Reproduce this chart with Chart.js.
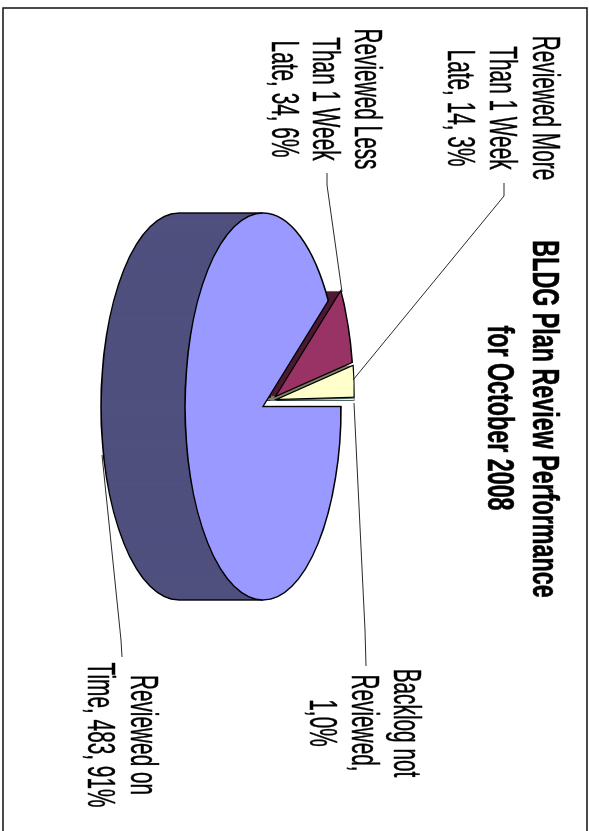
<!DOCTYPE html>
<html>
<head>
<meta charset="utf-8">
<title>BLDG Plan Review Performance</title>
<script src="https://cdn.jsdelivr.net/npm/chart.js@4/dist/chart.umd.min.js"></script>
<style>
    html, body { margin: 0; padding: 0; background: #fff; overflow: hidden; }
    /* the whole sheet was printed sideways, so the chart is turned a quarter */
    #sheet { position: absolute; left: 0; top: 0; width: 831px; height: 589px;
             transform-origin: 0 0; transform: translate(589px, 0) rotate(90deg); }
</style>
</head>
<body>
<div id="sheet"><canvas id="pie" width="831" height="589"></canvas></div>
<script>
const categories = ['Reviewed on Time', 'Reviewed Less Than 1 Week Late', 'Reviewed More Than 1 Week Late', 'Backlog not Reviewed'];
const counts = [483, 34, 14, 1];
const percents = [91, 6, 3, 0];
const topColors = ['#9999FF', '#993366', '#FFFFCC', '#CCFFFF'];
const wallColors = ['#50507F', '#4D1A33', '#808066', '#668080'];
const titleLines = ['BLDG Plan Review Performance', 'for October 2008'];
const labelLines = [
    ['Reviewed on', 'Time, ' + counts[0] + ', ' + percents[0] + '%'],
    ['Reviewed Less', 'Than 1 Week', 'Late, ' + counts[1] + ', ' + percents[1] + '%'],
    ['Reviewed More', 'Than 1 Week', 'Late, ' + counts[2] + ', ' + percents[2] + '%'],
    ['Backlog not', 'Reviewed,', counts[3] + ',' + percents[3] + '%']
];

// layout, in page pixels of the sideways sheet (u along the long side)
const SQUASH = 0.403;
const DEPTH = 84;
const explode = [null, { u: -10, v: -31 }, { u: -7, v: -33 }, { u: -6, v: -33 }];
const outlineWidth = [1.4, 1.3, 1.2, 0.5];
const labelPos = [
    { u: 735, v: 458, gap: 43 },
    { u: 99, v: 234, gap: 41.5 },
    { u: 108, v: 56, gap: 42.5 },
    { u: 723, v: 195, gap: 42 }
];
const leaders = [
    [[657, 467], [640, 468], [455, 487]],
    [[173, 262], [185, 262], [292, 247]],
    [[183, 85], [196, 85], [380, 236]],
    [[666, 223], [630, 224], [403, 235]]
];

const sideways = {
    id: 'sideways',
    beforeDatasetsDraw(chart) {
        const ctx = chart.ctx;
        const arcs = chart.getDatasetMeta(0).data;
        const cy = arcs[0].y;

        function squashed(off, dv) {
            ctx.translate(off ? off.u : 0, (off ? off.v * SQUASH : 0) + dv);
            ctx.translate(0, cy);
            ctx.scale(1, SQUASH);
            ctx.translate(0, -cy);
        }
        function slicePath(a) {
            ctx.beginPath();
            ctx.moveTo(a.x, a.y);
            ctx.arc(a.x, a.y, a.outerRadius, a.startAngle, a.endAngle);
            ctx.closePath();
        }

        // back to front: the small slices sit behind the big one
        for (let i = arcs.length - 1; i >= 0; i--) {
            const a = arcs[i];
            ctx.fillStyle = wallColors[i];
            for (let d = DEPTH; d > 0; d--) {
                ctx.save();
                squashed(explode[i], d);
                slicePath(a);
                ctx.restore();
                ctx.fill();
            }
            ctx.strokeStyle = '#000';
            ctx.lineWidth = outlineWidth[i];
            // outline of the wall
            ctx.save();
            squashed(explode[i], DEPTH);
            if (i === 0) {
                ctx.beginPath();
                ctx.arc(a.x, a.y, a.outerRadius, 0, Math.PI);
            } else {
                slicePath(a);
            }
            ctx.restore();
            ctx.stroke();
            if (i === 0) {
                ctx.beginPath();
                ctx.moveTo(a.x - a.outerRadius, cy);
                ctx.lineTo(a.x - a.outerRadius, cy + DEPTH);
                ctx.moveTo(a.x + a.outerRadius, cy);
                ctx.lineTo(a.x + a.outerRadius, cy + DEPTH);
                ctx.stroke();
            }
            // the top, drawn by the arc element itself
            ctx.save();
            squashed(explode[i], 0);
            a.draw(ctx);
            ctx.restore();
            ctx.save();
            squashed(explode[i], 0);
            slicePath(a);
            ctx.restore();
            ctx.stroke();
        }
        return false;
    },
    afterDraw(chart) {
        const ctx = chart.ctx;
        ctx.save();
        ctx.strokeStyle = '#111';
        ctx.lineWidth = 1.5;
        ctx.beginPath();
        ctx.moveTo(831, 586);
        ctx.lineTo(8, 586);
        ctx.lineTo(8, 2);
        ctx.lineTo(831, 2);
        ctx.stroke();

        ctx.lineWidth = 0.9;
        leaders.forEach(pts => {
            ctx.beginPath();
            pts.forEach((p, j) => j ? ctx.lineTo(p[0], p[1]) : ctx.moveTo(p[0], p[1]));
            ctx.stroke();
        });

        ctx.fillStyle = '#000';
        ctx.strokeStyle = '#000';
        ctx.textAlign = 'center';
        ctx.textBaseline = 'alphabetic';
        // the print is stretched across the text, hence the scale
        function stretched(text, u, v, k, weight) {
            ctx.save();
            ctx.translate(u, v);
            ctx.scale(1, k);
            ctx.lineWidth = weight;
            ctx.fillText(text, 0, 0);
            ctx.strokeText(text, 0, 0);
            ctx.restore();
        }
        ctx.font = 'bold 23.3px "Liberation Sans"';
        stretched(titleLines[0], 419, 56, 1.6, 0.4);
        stretched(titleLines[1], 418, 101, 1.6, 0.4);
        ctx.font = '20.8px "Liberation Sans"';
        labelLines.forEach((lines, i) => {
            lines.forEach((t, j) => stretched(t, labelPos[i].u, labelPos[i].v + j * labelPos[i].gap, 1.82, 0.25));
        });
        ctx.restore();
    }
};

new Chart(document.getElementById('pie'), {
    type: 'pie',
    data: {
        labels: categories,
        datasets: [{ data: counts, backgroundColor: topColors, borderWidth: 0 }]
    },
    options: {
        responsive: false,
        animation: false,
        layout: { padding: { left: 0, right: 18, top: 132.5, bottom: 69.5 } },
        plugins: { legend: { display: false }, tooltip: { enabled: false }, title: { display: false } }
    },
    plugins: [sideways]
});
</script>
</body>
</html>
